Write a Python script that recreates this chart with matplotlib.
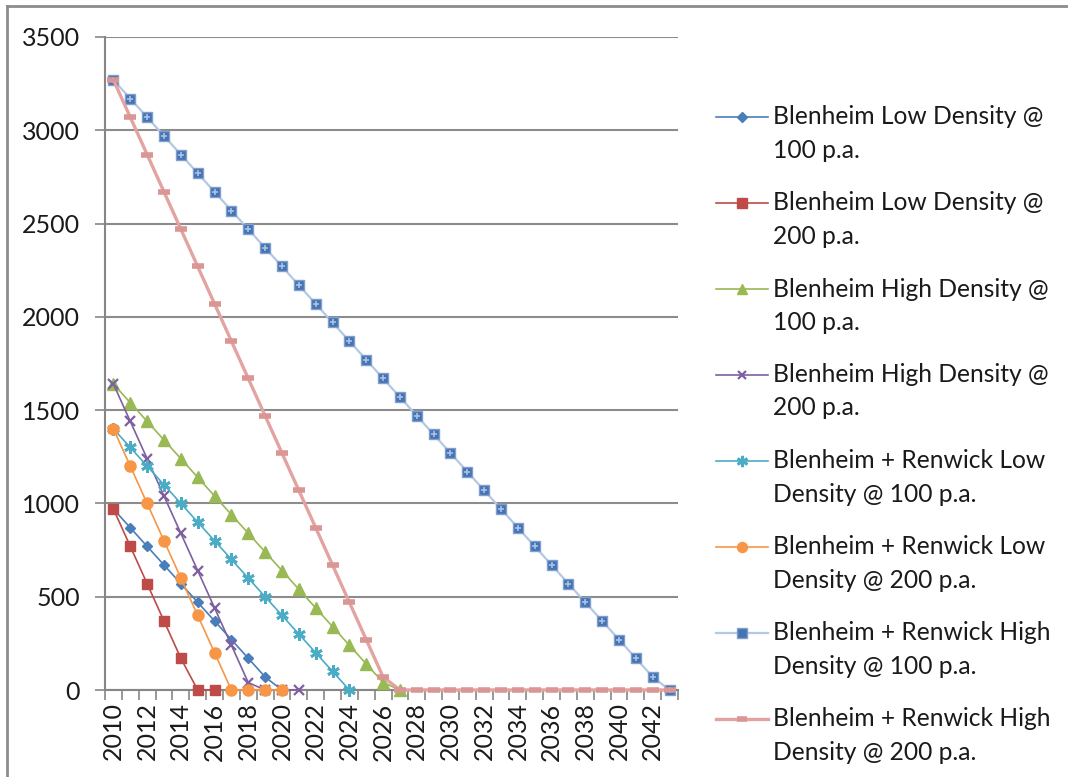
import numpy as np
import matplotlib
matplotlib.use('Agg')
import matplotlib.pyplot as plt
from matplotlib.lines import Line2D

plt.rcParams['font.family'] = ['Lato', 'DejaVu Sans']

years = [2010, 2011, 2012, 2013, 2014, 2015, 2016, 2017, 2018, 2019,
         2020, 2021, 2022, 2023, 2024, 2025, 2026, 2027, 2028, 2029,
         2030, 2031, 2032, 2033, 2034, 2035, 2036, 2037, 2038, 2039,
         2040, 2041, 2042, 2043]

blen_low_100 = [970, 870, 770, 670, 570, 470, 370, 270, 170, 70, 0]
blen_low_200 = [970, 770, 570, 370, 170, 0, 0]
blen_high_100 = [1640, 1540, 1440, 1340, 1240, 1140, 1040, 940, 840, 740,
                 640, 540, 440, 340, 240, 140, 40, 0]
blen_high_200 = [1640, 1440, 1240, 1040, 840, 640, 440, 240, 40, 0, 0, 0]
br_low_100 = [1400, 1300, 1200, 1100, 1000, 900, 800, 700, 600, 500,
              400, 300, 200, 100, 0]
br_low_200 = [1400, 1200, 1000, 800, 600, 400, 200, 0, 0, 0, 0]
br_high_100 = [3270, 3170, 3070, 2970, 2870, 2770, 2670, 2570, 2470, 2370,
               2270, 2170, 2070, 1970, 1870, 1770, 1670, 1570, 1470, 1370,
               1270, 1170, 1070, 970, 870, 770, 670, 570, 470, 370,
               270, 170, 70, 0]
br_high_200 = [3270, 3070, 2870, 2670, 2470, 2270, 2070, 1870, 1670, 1470,
               1270, 1070, 870, 670, 470, 270, 70, 0, 0, 0,
               0, 0, 0, 0, 0, 0, 0, 0, 0, 0,
               0, 0, 0, 0]

labels = ['Blenheim Low Density @\n100 p.a.',
          'Blenheim Low Density @\n200 p.a.',
          'Blenheim High Density @\n100 p.a.',
          'Blenheim High Density @\n200 p.a.',
          'Blenheim + Renwick Low\nDensity @ 100 p.a.',
          'Blenheim + Renwick Low\nDensity @ 200 p.a.',
          'Blenheim + Renwick High\nDensity @ 100 p.a.',
          'Blenheim + Renwick High\nDensity @ 200 p.a.']

# style per series
styles = [
    dict(color='#4A7EBB', marker='D', ms=5.5, mfc='#4A7EBB', mec='#4A7EBB', mew=1, lw=1.2),
    dict(color='#BE4B48', marker='s', ms=7.5, mfc='#BE4B48', mec='#BE4B48', mew=1, lw=1.2),
    dict(color='#98B954', marker='^', ms=8, mfc='#98B954', mec='#98B954', mew=1, lw=1.2),
    dict(color='#7D60A0', marker='x', ms=7, mfc='#7D60A0', mec='#7D60A0', mew=1.6, lw=1.2),
    dict(color='#4BACC6', marker=(6, 2, 0), ms=9, mfc='#4BACC6', mec='#4BACC6', mew=2, lw=1.2),
    dict(color='#F79646', marker='o', ms=8, mfc='#F79646', mec='#F79646', mew=1, lw=1.2),
    dict(color='#B3C8E4', marker='s', ms=7.5, mfc='#4673B3', mec='#7F9FCD', mew=1, lw=1.6),
    dict(color='#E2A3A1', marker='_', ms=8, mfc='#D99694', mec='#D99694', mew=4, lw=2.4),
]
series = [blen_low_100, blen_low_200, blen_high_100, blen_high_200,
          br_low_100, br_low_200, br_high_100, br_high_200]

W, H = 1068, 777
fig = plt.figure(figsize=(W / 100, H / 100), dpi=100)
ax = fig.add_axes([105 / W, 1 - 690 / H, 573 / W, 653 / H])

for vals, st in zip(series, styles):
    x = np.arange(len(vals))
    ax.plot(x, vals, clip_on=False, zorder=3, **st)
    if st['marker'] == 's' and st['mfc'] == '#4673B3':
        ax.plot(x, vals, ls='none', marker='+', ms=5, mew=1.2,
                color='#A9C2E6', clip_on=False, zorder=3)

ax.set_xlim(-0.5, len(years) - 0.5)
ax.set_ylim(0, 3500)
ax.set_yticks(np.arange(0, 3501, 500))
ax.yaxis.grid(True, color='#8C8C8C', lw=1.5)
ax.set_axisbelow(True)

ax.set_xticks(np.arange(0, len(years), 2))
ax.set_xticklabels([str(y) for y in years[::2]], rotation=90)
ax.set_xticks(np.arange(-0.5, len(years), 1), minor=True)
ax.tick_params(axis='x', which='major', length=0, pad=9, labelsize=18, labelcolor='#1a1a1a')
ax.tick_params(axis='x', which='minor', length=7, width=1.2, color='#868686')
ax.tick_params(axis='y', length=7, width=1.2, color='#868686', pad=11, labelsize=18,
               labelcolor='#1a1a1a')

for s in ['top', 'right']:
    ax.spines[s].set_visible(False)
for s in ['left', 'bottom']:
    ax.spines[s].set_color('#868686')
    ax.spines[s].set_linewidth(1.5)

# legend drawn by hand so the key sits on the first text line
for i, (lab, st) in enumerate(zip(labels, styles)):
    yc = 1 - (117 + 86 * i) / H
    fig.add_artist(Line2D([716 / W, 768 / W], [yc, yc], transform=fig.transFigure,
                          color=st['color'], lw=st['lw']))
    fig.add_artist(Line2D([742 / W], [yc], transform=fig.transFigure, ls='none',
                          marker=st['marker'], ms=st['ms'] * 0.9, mfc=st['mfc'],
                          mec=st['mec'], mew=st['mew']))
    l1, l2 = lab.split('\n')
    fig.text(773 / W, yc, l1, fontsize=17.7, va='center', ha='left', color='#1a1a1a')
    fig.text(773 / W, yc - 33 / H, l2, fontsize=17.7, va='center', ha='left', color='#1a1a1a')

# chart border (top and left edges visible)
fig.add_artist(Line2D([7 / W, 1.0], [1 - 6 / H, 1 - 6 / H], transform=fig.transFigure,
                      color='#8C8C8C', lw=2))
fig.add_artist(Line2D([7 / W, 7 / W], [0, 1 - 6 / H], transform=fig.transFigure,
                      color='#8C8C8C', lw=2))

fig.savefig('out.png', dpi=100)
